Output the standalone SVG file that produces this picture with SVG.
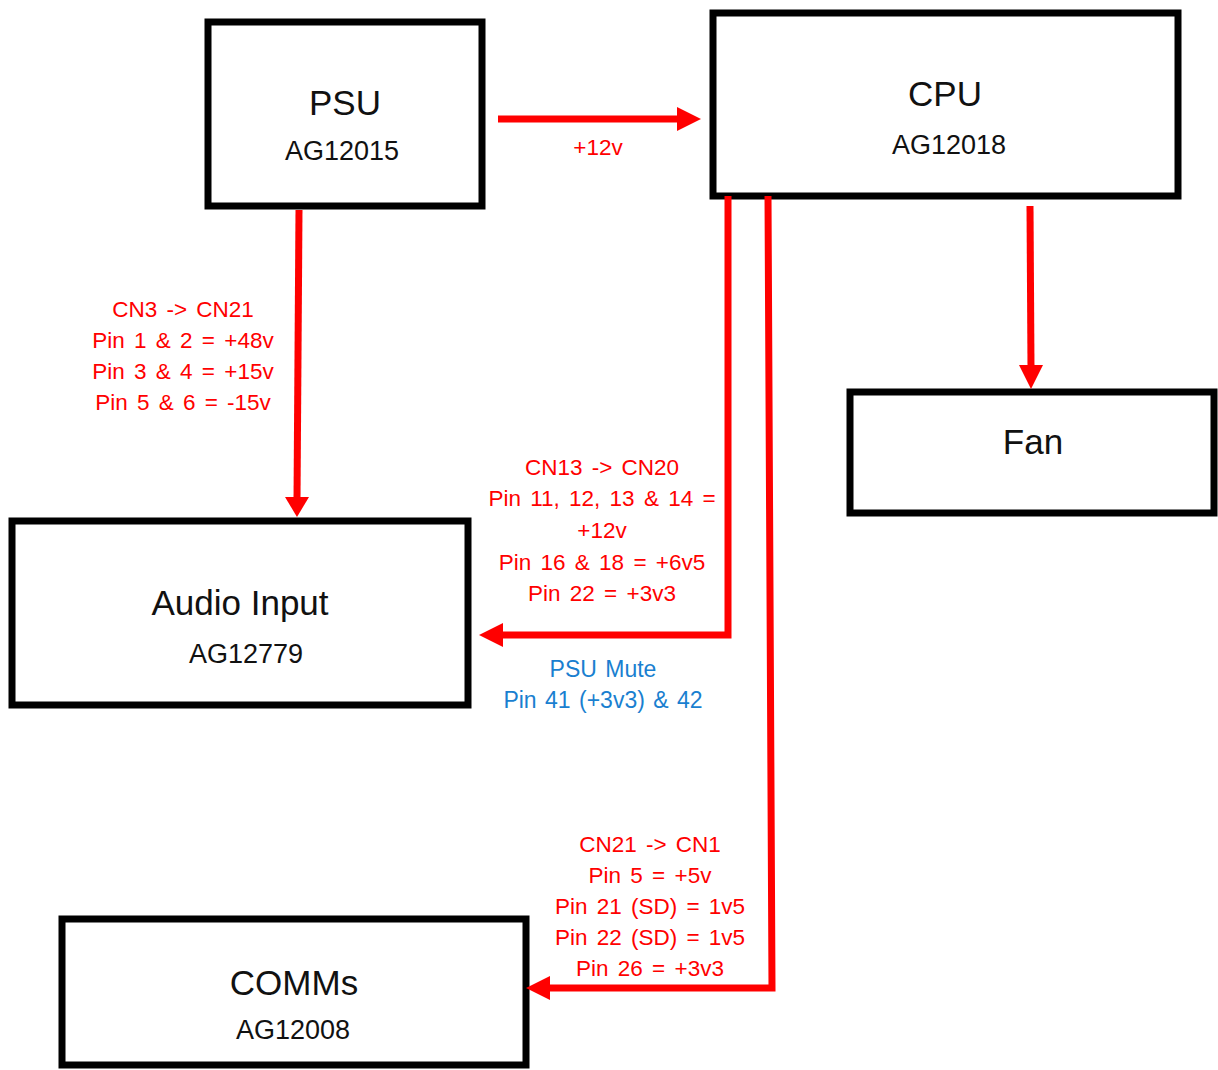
<svg xmlns="http://www.w3.org/2000/svg" width="1218" height="1070" viewBox="0 0 1218 1070">
<defs>
<style>
.box{fill:#fff;stroke:#000;stroke-width:7}
.t{font-family:"Liberation Sans",Arial,sans-serif;text-anchor:middle;fill:#111}
.big{font-size:35px}
.sub{font-size:27px}
.r{font-family:"Liberation Sans",Arial,sans-serif;text-anchor:middle;fill:#ff0000;font-size:22.5px;word-spacing:3px}
.b{font-family:"Liberation Sans",Arial,sans-serif;text-anchor:middle;fill:#1a7fd0;font-size:23px;word-spacing:2px}
.ln{fill:none;stroke:#ff0000;stroke-width:7}
.ah{fill:#ff0000}
</style>
</defs>
<rect width="1218" height="1070" fill="#fff"/>
<g id="psu">
<rect class="box" x="208" y="22" width="274" height="184"/>
<text class="t big" x="345" y="115">PSU</text>
<text class="t sub" x="342" y="160">AG12015</text>
</g>
<g id="cpu">
<rect class="box" x="713" y="13" width="465" height="183"/>
<text class="t big" x="945" y="106">CPU</text>
<text class="t sub" x="949" y="154">AG12018</text>
</g>
<g id="fan">
<rect class="box" x="850" y="392" width="364" height="121"/>
<text class="t big" x="1033" y="454">Fan</text>
</g>
<g id="audio">
<rect class="box" x="12" y="521" width="456" height="184"/>
<text class="t big" x="240" y="615">Audio Input</text>
<text class="t sub" x="246" y="663">AG12779</text>
</g>
<g id="comms">
<rect class="box" x="62" y="919" width="464" height="146"/>
<text class="t big" x="294" y="995">COMMs</text>
<text class="t sub" x="293" y="1039">AG12008</text>
</g>
<g id="connectors">
<line class="ln" x1="498" y1="119" x2="680" y2="119"/>
<polygon class="ah" points="677,107 701,119 677,131"/>
<line class="ln" x1="299" y1="210" x2="297" y2="500"/>
<polygon class="ah" points="285,497 297,517 309,497"/>
<line class="ln" x1="1030" y1="206" x2="1031" y2="368"/>
<polygon class="ah" points="1019,365 1031,389 1043,365"/>
<polyline class="ln" points="728,196 728,635 500,635"/>
<polygon class="ah" points="503,623 479,635 503,647"/>
<polyline class="ln" points="768,196 772,988 548,988"/>
<polygon class="ah" points="550,976 526,988 550,1000"/>
</g>
<g id="labels">
<text class="r" x="598" y="155">+12v</text>
<text class="r" x="183" y="317">CN3 -&gt; CN21</text>
<text class="r" x="183" y="348">Pin 1 &amp; 2 = +48v</text>
<text class="r" x="183" y="379">Pin 3 &amp; 4 = +15v</text>
<text class="r" x="183" y="410">Pin 5 &amp; 6 = -15v</text>
<text class="r" x="602" y="475">CN13 -&gt; CN20</text>
<text class="r" x="602" y="506">Pin 11, 12, 13 &amp; 14 =</text>
<text class="r" x="602" y="538">+12v</text>
<text class="r" x="602" y="570">Pin 16 &amp; 18 = +6v5</text>
<text class="r" x="602" y="601">Pin 22 = +3v3</text>
<text class="b" x="603" y="677">PSU Mute</text>
<text class="b" x="603" y="708">Pin 41 (+3v3) &amp; 42</text>
<text class="r" x="650" y="852">CN21 -&gt; CN1</text>
<text class="r" x="650" y="883">Pin 5 = +5v</text>
<text class="r" x="650" y="914">Pin 21 (SD) = 1v5</text>
<text class="r" x="650" y="945">Pin 22 (SD) = 1v5</text>
<text class="r" x="650" y="976">Pin 26 = +3v3</text>
</g>
</svg>
